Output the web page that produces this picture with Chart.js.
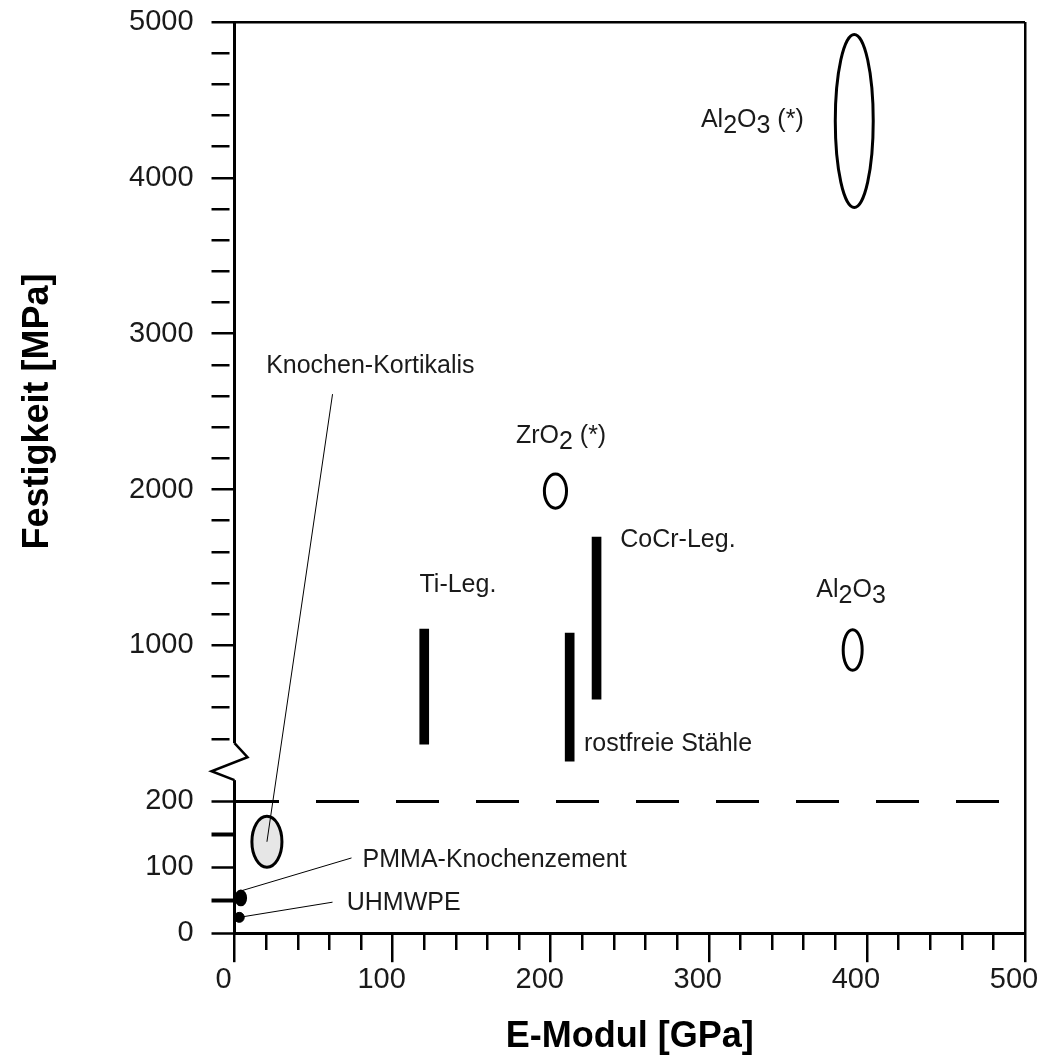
<!DOCTYPE html>
<html lang="de">
<head>
<meta charset="utf-8">
<title>Festigkeit über E-Modul</title>
<script src="https://cdn.jsdelivr.net/npm/chart.js@4.4.1/dist/chart.umd.min.js"></script>
<style>
  html, body { margin: 0; padding: 0; background: #fff; }
  canvas { display: block; }
</style>
</head>
<body>
<canvas id="chart" width="1043" height="1055"></canvas>
<script>
// E-Modul [GPa], Festigkeit [MPa]; unterhalb 200 MPa eigene gestauchte Achse
const eMax = 500;
const festMaxOben = 5000;
const festMaxUnten = 200;

// Metalllegierungen: Balken von min bis max Festigkeit
const metallNamen = ['Ti-Leg.', 'rostfreie Stähle', 'CoCr-Leg.'];
const metallE = [120, 212, 229];
const metallFestigkeit = [[366, 1104], [257, 1078], [655, 1694]];

// Ovale: E-Bereich und Festigkeitsbereich
const ovalNamen = ['Al2O3 (*)', 'ZrO2 (*)', 'Al2O3', 'Knochen-Kortikalis', 'PMMA-Knochenzement'];
const ovalE = [[380, 404], [196, 210], [385, 397], [11, 30], [1, 7]];
const ovalFestigkeit = [[3810, 4920], [1880, 2100], [840, 1100], [100, 177], [43, 64]];

// UHMWPE als einzelner Punkt
const punktNamen = ['UHMWPE'];
const punktE = [3];
const punktFestigkeit = [24];

// --- Darstellung ---
const FONT = "'Liberation Sans', Arial, sans-serif";
const TRANSP = 'rgba(0,0,0,0)';

const ovalFuellung = { 'Knochen-Kortikalis': '#e6e6e6', 'PMMA-Knochenzement': '#000' };

// Lage der Beschriftungen (linke Kante, Mitte) in Achsenwerten
const labelLage = {
  'Al2O3 (*)':          { e: 295, f: 4371 },
  'ZrO2 (*)':           { e: 178, f: 2343 },
  'Al2O3':              { e: 368, f: 1354 },
  'Knochen-Kortikalis': { e: 20,  f: 2792 },
  'Ti-Leg.':            { e: 117, f: 1386 },
  'CoCr-Leg.':          { e: 244, f: 1675 },
  'rostfreie Stähle':   { e: 221, f: 366 },
  'PMMA-Knochenzement': { e: 81,  f: 111 },
  'UHMWPE':             { e: 71,  f: 45 }
};
// Hinweislinien: Startpunkt beim Text
const hinweis = {
  'Knochen-Kortikalis': { e: 62, f: 2612 },
  'PMMA-Knochenzement': { e: 74, f: 114 },
  'UHMWPE':             { e: 62, f: 47 }
};

function achseFuer(f) { return f > festMaxUnten ? 'yUp' : 'y'; }

function ziel(name) {
  let i = ovalNamen.indexOf(name);
  if (name === 'PMMA-Knochenzement') return { e: (ovalE[i][0] + ovalE[i][1]) / 2, f: ovalFestigkeit[i][1] };
  if (i >= 0) return { e: (ovalE[i][0] + ovalE[i][1]) / 2, f: (ovalFestigkeit[i][0] + ovalFestigkeit[i][1]) / 2 };
  i = punktNamen.indexOf(name);
  return { e: punktE[i], f: punktFestigkeit[i] };
}

function segmente(text) {
  const out = [];
  for (let i = 0; i < text.length; i++) {
    const sub = /\d/.test(text[i]) && i > 0 && /[A-Za-z]/.test(text[i - 1]);
    const last = out[out.length - 1];
    if (last && last.sub === sub) last.t += text[i];
    else out.push({ t: text[i], sub });
  }
  return out;
}

const ovalPlugin = {
  id: 'ovale',
  afterDatasetsDraw(chart) {
    const { ctx, scales } = chart;
    ctx.save();
    ovalNamen.forEach((name, i) => {
      const ys = scales[achseFuer(ovalFestigkeit[i][1])];
      const x1 = scales.x.getPixelForValue(ovalE[i][0]);
      const x2 = scales.x.getPixelForValue(ovalE[i][1]);
      const y1 = ys.getPixelForValue(ovalFestigkeit[i][0]);
      const y2 = ys.getPixelForValue(ovalFestigkeit[i][1]);
      ctx.beginPath();
      ctx.ellipse((x1 + x2) / 2, (y1 + y2) / 2, Math.abs(x2 - x1) / 2, Math.abs(y2 - y1) / 2, 0, 0, Math.PI * 2);
      if (ovalFuellung[name]) {
        ctx.fillStyle = ovalFuellung[name];
        ctx.fill();
      }
      ctx.lineWidth = 3;
      ctx.strokeStyle = '#000';
      ctx.stroke();
    });

    // Hinweislinien
    ctx.lineWidth = 1;
    Object.keys(hinweis).forEach(name => {
      const a = hinweis[name];
      const b = ziel(name);
      ctx.beginPath();
      ctx.moveTo(scales.x.getPixelForValue(a.e), scales[achseFuer(a.f)].getPixelForValue(a.f));
      ctx.lineTo(scales.x.getPixelForValue(b.e), scales[achseFuer(b.f)].getPixelForValue(b.f));
      ctx.stroke();
    });

    // Beschriftungen
    ctx.font = '25px ' + FONT;
    ctx.fillStyle = '#1a1a1a';
    ctx.textBaseline = 'middle';
    ctx.textAlign = 'left';
    [...metallNamen, ...ovalNamen, ...punktNamen].forEach(name => {
      const lage = labelLage[name];
      let x = scales.x.getPixelForValue(lage.e);
      const y = scales[achseFuer(lage.f)].getPixelForValue(lage.f);
      segmente(name).forEach(s => {
        ctx.fillText(s.t, x, s.sub ? y + 6 : y);
        x += ctx.measureText(s.t).width;
      });
    });
    ctx.restore();
  }
};

// Zickzack-Achsenbruch auf der Festigkeitsachse
const bruchPlugin = {
  id: 'achsenBruch',
  afterDraw(chart) {
    const { ctx, chartArea, scales } = chart;
    const x = chartArea.left;
    const yA = scales.yUp.getPixelForValue(372);
    const yB = scales.yUp.getPixelForValue(135);
    const h = yB - yA;
    ctx.save();
    ctx.fillStyle = '#fff';
    ctx.fillRect(x - 3, yA, 6, h);
    ctx.beginPath();
    ctx.moveTo(x, yA);
    ctx.lineTo(x + 13, yA + h * 0.38);
    ctx.lineTo(x - 23, yA + h * 0.76);
    ctx.lineTo(x, yB);
    ctx.lineWidth = 2.5;
    ctx.strokeStyle = '#000';
    ctx.stroke();
    ctx.restore();
  }
};

const tickFont = { family: FONT, size: 29 };
const titelFont = { family: FONT, size: 36, weight: 'bold', lineHeight: 1 };
const ohnePadding = s => { s.paddingTop = 0; s.paddingBottom = 0; };

new Chart(document.getElementById('chart'), {
  type: 'scatter',
  data: {
    datasets: [
      {
        type: 'bar',
        label: 'Metalle',
        data: metallE.map((e, i) => ({ x: e, y: metallFestigkeit[i] })),
        backgroundColor: '#000',
        borderWidth: 0,
        barThickness: 9,
        grouped: false,
        yAxisID: 'yUp'
      },
      {
        type: 'scatter',
        label: 'UHMWPE',
        data: punktE.map((e, i) => ({ x: e, y: punktFestigkeit[i] })),
        backgroundColor: '#000',
        borderColor: '#000',
        pointRadius: 5,
        yAxisID: 'y'
      }
    ]
  },
  options: {
    responsive: false,
    animation: false,
    layout: { padding: { top: 22, right: 18, bottom: 0, left: 0 } },
    plugins: { legend: { display: false }, tooltip: { enabled: false } },
    scales: {
      x: {
        type: 'linear',
        position: 'bottom',
        min: 0,
        max: eMax,
        offset: false,
        border: { display: true, color: '#000', width: 3 },
        grid: {
          offset: false,
          drawOnChartArea: true,
          color: c => c.tick && c.tick.value === eMax ? '#000' : TRANSP,
          lineWidth: 2.5,
          tickLength: 29,
          tickWidth: 2.5,
          tickColor: '#000',
          tickBorderDash: c => c.tick && c.tick.value % 100 === 0 ? [] : [15, 100]
        },
        ticks: {
          stepSize: 20,
          autoSkip: false,
          maxRotation: 0,
          padding: 0,
          labelOffset: -11,
          color: '#1a1a1a',
          font: tickFont,
          callback: v => v % 100 === 0 ? v : ''
        },
        title: {
          display: true,
          text: 'E-Modul [GPa]',
          color: '#000',
          font: titelFont,
          padding: { top: 22, bottom: 0 }
        },
        afterFit: s => { s.paddingLeft = 0; s.paddingRight = 0; }
      },
      y: {
        type: 'linear',
        position: 'left',
        stack: 'fest',
        stackWeight: 132,
        min: 0,
        max: festMaxUnten,
        border: { display: true, color: '#000', width: 3, dash: [43, 37] },
        grid: {
          drawOnChartArea: true,
          color: c => c.tick && c.tick.value === festMaxUnten ? '#000' : TRANSP,
          lineWidth: 3,
          tickLength: 23,
          tickWidth: c => c.tick && c.tick.value % 100 !== 0 ? 4 : 2.5,
          tickColor: '#000'
        },
        ticks: {
          stepSize: 50,
          autoSkip: false,
          padding: 18,
          color: '#1a1a1a',
          font: tickFont,
          callback: v => v % 100 === 0 ? v : ''
        },
        afterFit: ohnePadding
      },
      yUp: {
        type: 'linear',
        position: 'left',
        stack: 'fest',
        stackWeight: 779,
        min: 0,
        max: festMaxOben,
        border: { display: true, color: '#000', width: 3 },
        grid: {
          drawOnChartArea: true,
          color: c => c.tick && c.tick.value === festMaxOben ? '#000' : TRANSP,
          lineWidth: 2.5,
          tickLength: 23,
          tickWidth: 2.5,
          tickColor: c => c.tick && c.tick.value >= 400 ? '#000' : TRANSP,
          tickBorderDash: c => c.tick && c.tick.value % 1000 === 0 ? [] : [18, 100]
        },
        ticks: {
          stepSize: 200,
          autoSkip: false,
          padding: 18,
          color: '#1a1a1a',
          font: tickFont,
          callback: v => (v % 1000 === 0 && v > 0) ? v : ''
        },
        title: {
          display: true,
          text: 'Festigkeit [MPa]',
          color: '#000',
          font: titelFont,
          padding: { top: 20, bottom: 55 }
        },
        afterFit: ohnePadding
      }
    }
  },
  plugins: [ovalPlugin, bruchPlugin]
});
</script>
</body>
</html>
